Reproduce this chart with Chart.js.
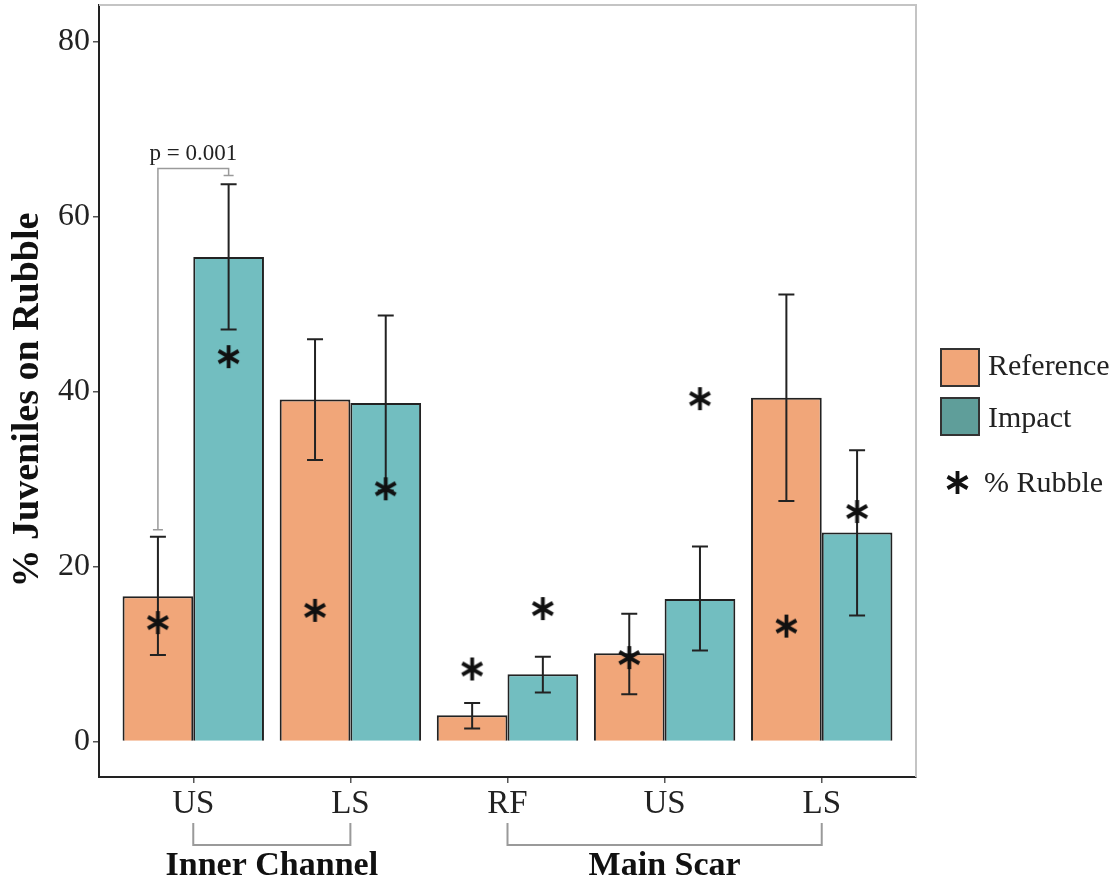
<!DOCTYPE html>
<html>
<head>
<meta charset="utf-8">
<script src="https://cdn.jsdelivr.net/npm/chart.js@4"></script>
<style>
  html, body { margin: 0; padding: 0; background: #fff; }
  #wrap { position: relative; width: 1116px; height: 881px; }
  canvas#chart { display: block; }
  .leg { position: absolute; font-family: 'Liberation Serif', 'Times New Roman', serif; font-size: 30px; color: #222; line-height: 30px; }
  .box { position: absolute; width: 36px; height: 35px; border: 2px solid #333; }
</style>
</head>
<body>
<div id="wrap">
  <canvas id="chart" width="1116" height="881"></canvas>
  <div class="box" style="left:940px;top:348px;background:#F1A679"></div>
  <div class="leg" style="left:988px;top:350px">Reference</div>
  <div class="box" style="left:940px;top:397px;background:#5F9E9A"></div>
  <div class="leg" style="left:988px;top:402px">Impact</div>
  <div id="legStar" style="position:absolute;left:945px;top:470px"></div>
  <div class="leg" style="left:984px;top:467px">% Rubble</div>
</div>
<script>
// data
const sites = ['US', 'LS', 'RF', 'US', 'LS'];
const regions = ['Inner Channel', 'Main Scar'];
const regionFrom = [0, 2];
const regionTo = [1, 4];

const refMean = [16.6, 39.1, 3.0, 10.1, 39.3];
const refLow  = [9.9, 32.2, 1.5, 5.4, 27.5];
const refHigh = [23.4, 46.0, 4.4, 14.6, 51.1];

const impMean = [55.4, 38.7, 7.7, 16.3, 23.9];
const impLow  = [47.1, 28.7, 5.6, 10.4, 14.4];
const impHigh = [63.7, 48.7, 9.7, 22.3, 33.3];

const rubbleRef = [13.6, 15.0, 8.3, 9.6, 13.2];
const rubbleImp = [44.0, 28.9, 15.2, 39.2, 26.3];

const yTicks = [0, 20, 40, 60, 80];
const yTitle = '% Juveniles on Rubble';

// significance bracket (group 0, ref vs impact)
const pText = 'p = 0.001';
const pLeftEnd = 24.2, pTop = 65.5, pRightEnd = 64.7;

const ORANGE = '#F1A679';
const TEAL = '#72BEC0';
const FONT = "'Liberation Serif', 'Times New Roman', serif";
const xs = sites.map((_, i) => i);

function makeStar(size, lw) {
  const c = document.createElement('canvas');
  c.width = c.height = size;
  const g = c.getContext('2d');
  g.strokeStyle = '#111';
  g.lineWidth = lw;
  const r = size / 2 - 1;
  for (let k = 0; k < 3; k++) {
    const a = Math.PI / 2 + k * Math.PI / 3;
    g.beginPath();
    g.moveTo(size / 2 + r * Math.cos(a), size / 2 + r * Math.sin(a));
    g.lineTo(size / 2 - r * Math.cos(a), size / 2 - r * Math.sin(a));
    g.stroke();
  }
  return c;
}
const star = makeStar(25, 3.8);
document.getElementById('legStar').appendChild(makeStar(25, 3.8));

const extras = {
  id: 'extras',
  afterDatasetDraw(chart, args) {
    if (args.index !== 0) return;
    // error bars, after both bar sets are drawn
    const y = chart.scales.y;
    const ctx = chart.ctx;
    ctx.save();
    ctx.strokeStyle = '#222';
    ctx.lineWidth = 2;
    [[0, refLow, refHigh], [1, impLow, impHigh]].forEach(([di, lo, hi]) => {
      chart.getDatasetMeta(di).data.forEach((bar, i) => {
        const x = bar.x, y1 = y.getPixelForValue(lo[i]), y2 = y.getPixelForValue(hi[i]);
        ctx.beginPath();
        ctx.moveTo(x, y1); ctx.lineTo(x, y2);
        ctx.moveTo(x - 8, y1); ctx.lineTo(x + 8, y1);
        ctx.moveTo(x - 8, y2); ctx.lineTo(x + 8, y2);
        ctx.stroke();
      });
    });
    ctx.restore();
  },
  afterDraw(chart) {
    const { ctx, chartArea, scales } = chart;
    const x = scales.x, y = scales.y;
    ctx.save();
    // top and right panel border
    ctx.strokeStyle = '#c4c4c4';
    ctx.lineWidth = 2;
    ctx.beginPath();
    ctx.moveTo(chartArea.left, chartArea.top);
    ctx.lineTo(chartArea.right, chartArea.top);
    ctx.lineTo(chartArea.right, chartArea.bottom);
    ctx.stroke();

    // y axis title
    ctx.save();
    ctx.translate(28, 400);
    ctx.rotate(-Math.PI / 2);
    ctx.fillStyle = '#111';
    ctx.font = 'bold 38px ' + FONT;
    ctx.textAlign = 'center';
    ctx.textBaseline = 'middle';
    ctx.fillText(yTitle, 0, 0);
    ctx.restore();

    // p-value bracket
    const xl = chart.getDatasetMeta(0).data[0].x;
    const xr = chart.getDatasetMeta(1).data[0].x;
    ctx.strokeStyle = '#9a9a9a';
    ctx.lineWidth = 1.5;
    ctx.beginPath();
    ctx.moveTo(xl, y.getPixelForValue(pLeftEnd));
    ctx.lineTo(xl, y.getPixelForValue(pTop));
    ctx.lineTo(xr, y.getPixelForValue(pTop));
    ctx.lineTo(xr, y.getPixelForValue(pRightEnd));
    ctx.moveTo(xl - 5, y.getPixelForValue(pLeftEnd)); ctx.lineTo(xl + 5, y.getPixelForValue(pLeftEnd));
    ctx.moveTo(xr - 5, y.getPixelForValue(pRightEnd)); ctx.lineTo(xr + 5, y.getPixelForValue(pRightEnd));
    ctx.stroke();
    ctx.fillStyle = '#222';
    ctx.font = '23px ' + FONT;
    ctx.textAlign = 'center';
    ctx.textBaseline = 'bottom';
    ctx.fillText(pText, (xl + xr) / 2, y.getPixelForValue(pTop) - 3);

    // region brackets under the axis
    const top = chartArea.bottom + 46, bot = chartArea.bottom + 68;
    ctx.strokeStyle = '#9a9a9a';
    ctx.lineWidth = 2;
    ctx.font = 'bold 34px ' + FONT;
    ctx.textBaseline = 'middle';
    regions.forEach((name, k) => {
      const a = x.getPixelForValue(regionFrom[k]), b = x.getPixelForValue(regionTo[k]);
      ctx.beginPath();
      ctx.moveTo(a, top); ctx.lineTo(a, bot); ctx.lineTo(b, bot); ctx.lineTo(b, top);
      ctx.stroke();
      ctx.fillStyle = '#111';
      ctx.fillText(name, (a + b) / 2, chartArea.bottom + 89);
    });
    ctx.restore();
  }
};

new Chart(document.getElementById('chart'), {
  type: 'bar',
  data: {
    datasets: [
      { label: 'Reference', data: xs.map(i => ({ x: i, y: refMean[i] })), backgroundColor: ORANGE,
        borderColor: '#222', borderWidth: 2, categoryPercentage: 0.9, barPercentage: 1, order: 2 },
      { label: 'Impact', data: xs.map(i => ({ x: i, y: impMean[i] })), backgroundColor: TEAL,
        borderColor: '#222', borderWidth: 2, categoryPercentage: 0.9, barPercentage: 1, order: 2 },
      { type: 'scatter', label: '% Rubble', data: xs.map(i => ({ x: i - 0.225, y: rubbleRef[i] })),
        pointStyle: star, order: 0 },
      { type: 'scatter', label: '% Rubble', data: xs.map(i => ({ x: i + 0.225, y: rubbleImp[i] })),
        pointStyle: star, order: 0 }
    ]
  },
  options: {
    responsive: false,
    animation: false,
    layout: { padding: { top: 5, right: 200, bottom: 0, left: 0 } },
    plugins: { legend: { display: false }, tooltip: { enabled: false } },
    scales: {
      x: {
        type: 'linear', min: -0.6, max: 4.6, offset: false,
        afterBuildTicks: s => { s.ticks = xs.map(v => ({ value: v })); },
        afterFit: s => { s.height = 104; s.paddingLeft = 0; s.paddingRight = 0; },
        ticks: { callback: v => sites[v], autoSkip: false, maxRotation: 0, padding: 2,
          color: '#222', font: { family: FONT, size: 33 } },
        grid: { drawOnChartArea: false, offset: false, tickLength: 6, color: '#555', lineWidth: 1.5 },
        border: { color: '#222', width: 2 }
      },
      y: {
        min: -4.05, max: 84.2,
        afterBuildTicks: s => { s.ticks = yTicks.map(v => ({ value: v })); },
        afterFit: s => { s.width = 99; s.paddingTop = 0; s.paddingBottom = 0; },
        ticks: { padding: 3, color: '#222', font: { family: FONT, size: 32 } },
        grid: { drawOnChartArea: false, tickLength: 6, color: '#555', lineWidth: 1.5 },
        border: { color: '#222', width: 2 }
      }
    }
  },
  plugins: [extras]
});
</script>
</body>
</html>
